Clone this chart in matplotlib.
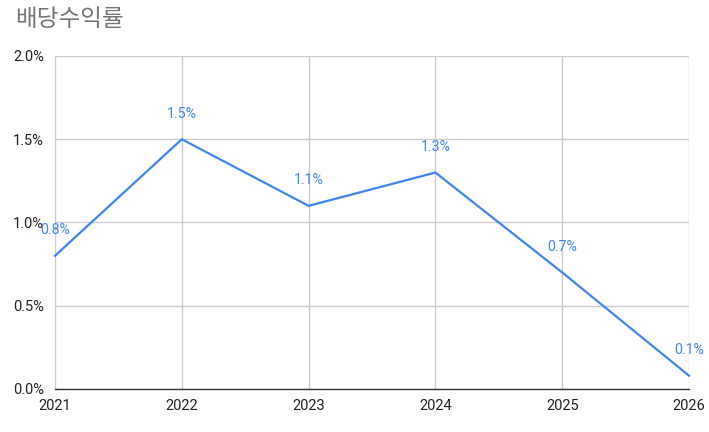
import matplotlib
matplotlib.use("Agg")
import matplotlib.pyplot as plt

years = ["2021", "2022", "2023", "2024", "2025", "2026"]
yield_pct = [0.8, 1.5, 1.1, 1.3, 0.7, 0.08]
y_ticks = [0.0, 0.5, 1.0, 1.5, 2.0]

plt.rcParams['font.family'] = ['Roboto', 'Noto Sans CJK KR', 'DejaVu Sans']

fig = plt.figure(figsize=(7.09, 4.32), dpi=100)
ax = fig.add_axes([55 / 709, 1 - 389 / 432, 634 / 709, 333 / 432])

x = list(range(len(years)))
ax.plot(x, yield_pct, color='#4285f4', linewidth=1.6, zorder=3, clip_on=False)

# value labels sit above each point
for xi, v in zip(x, yield_pct):
    ax.annotate(f"{v:.1f}%", (xi, v), xytext=(0, 18.5), textcoords='offset points',
                ha='center', va='center', color='#4285f4', fontsize=10.2)

ax.set_xlim(0, len(years) - 1)
ax.set_ylim(0, 2.0)
ax.set_xticks(x)
ax.set_xticklabels(years)
ax.set_yticks(y_ticks)
ax.set_yticklabels([f"{t:.1f}%" for t in y_ticks])

ax.grid(True, color='#cccccc', linewidth=1)
ax.set_axisbelow(True)
for side in ['top', 'right', 'left']:
    ax.spines[side].set_visible(False)
ax.spines['bottom'].set_color('#333333')
ax.spines['bottom'].set_linewidth(1)
ax.tick_params(length=0, labelsize=10.5, labelcolor='#222222')
ax.tick_params(axis='x', pad=7)
ax.tick_params(axis='y', pad=8)

fig.text(15 / 709, 1 - 20 / 432, "배당수익률", fontsize=17, color='#757575',
         family=['Noto Sans CJK KR', 'DejaVu Sans'], va='center', ha='left')

fig.savefig("out.png", dpi=100)
